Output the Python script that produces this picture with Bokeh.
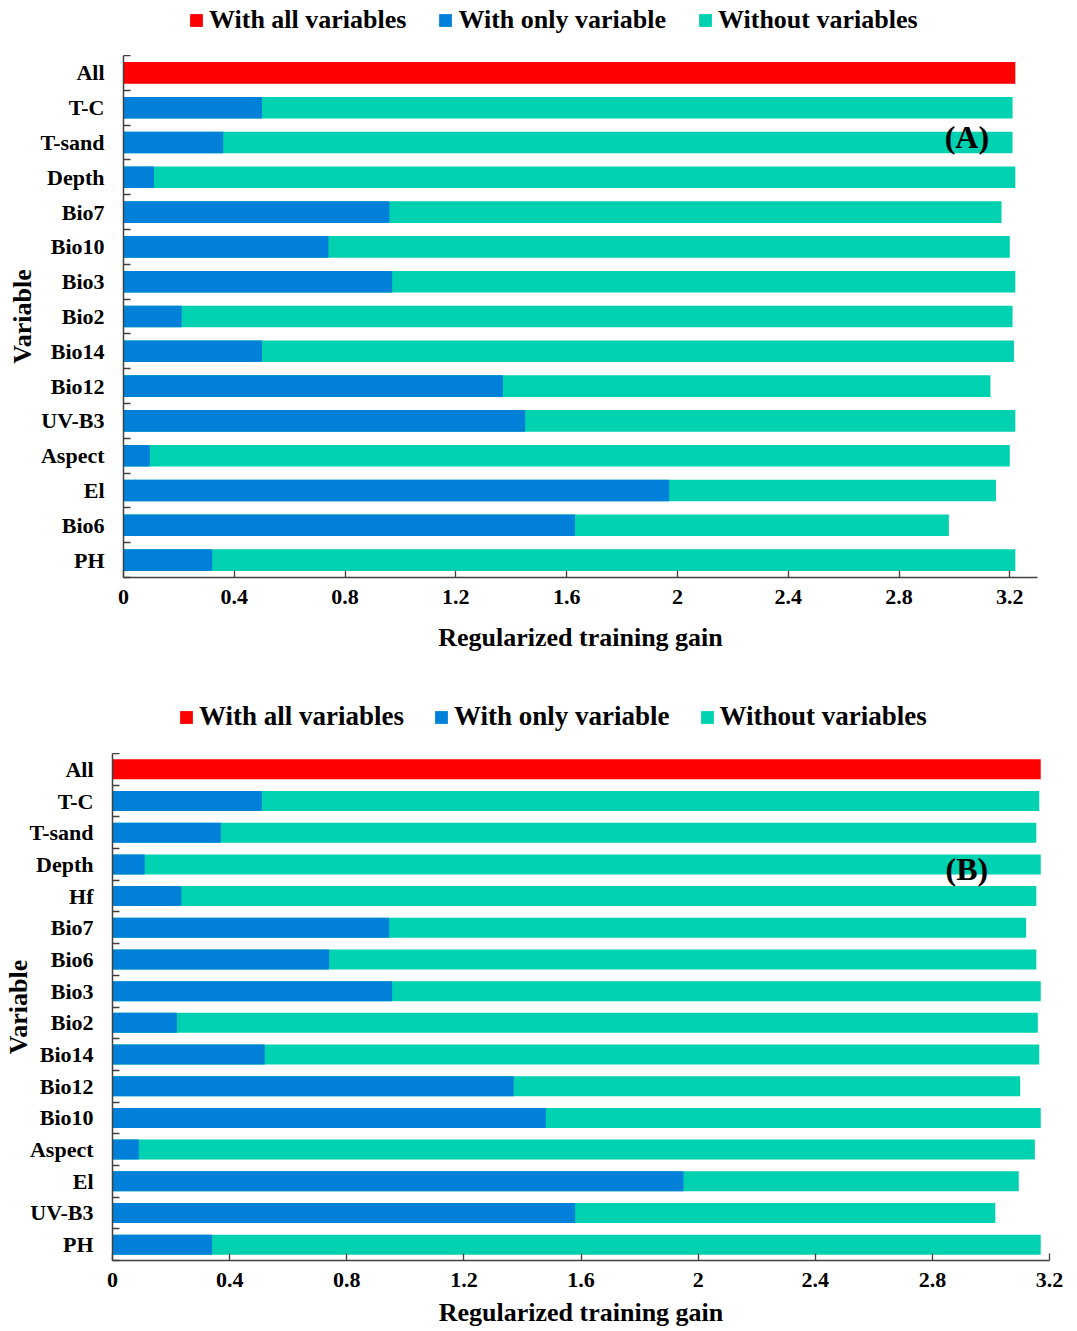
from bokeh.plotting import figure
from bokeh.models import (Range1d, FixedTicker, CustomJSTickFormatter, Legend,
                          LegendItem, ColumnDataSource)
from bokeh.layouts import column
from bokeh.core.properties import value
from bokeh.embed import file_html
from bokeh.resources import INLINE

# ---- data: jackknife of regularized training gain ----
x_tick_values = [0, 0.4, 0.8, 1.2, 1.6, 2, 2.4, 2.8, 3.2]
legend_labels = ["With all variables", "With only variable", "Without variables"]

variables_a = ["T-C", "T-sand", "Depth", "Bio7", "Bio10", "Bio3", "Bio2",
               "Bio14", "Bio12", "UV-B3", "Aspect", "El", "Bio6", "PH"]
only_a = [0.50, 0.36, 0.11, 0.96, 0.74, 0.97, 0.21,
          0.50, 1.37, 1.45, 0.095, 1.97, 1.63, 0.32]
without_a = [3.21, 3.21, 3.22, 3.17, 3.20, 3.22, 3.21,
             3.215, 3.13, 3.22, 3.20, 3.15, 2.98, 3.22]
all_a = 3.22

variables_b = ["T-C", "T-sand", "Depth", "Hf", "Bio7", "Bio6", "Bio3", "Bio2",
               "Bio14", "Bio12", "Bio10", "Aspect", "El", "UV-B3", "PH"]
only_b = [0.51, 0.37, 0.11, 0.235, 0.945, 0.74, 0.955, 0.22,
          0.52, 1.37, 1.48, 0.09, 1.95, 1.58, 0.34]
without_b = [3.165, 3.155, 3.17, 3.155, 3.12, 3.155, 3.17, 3.16,
             3.165, 3.10, 3.17, 3.15, 3.095, 3.015, 3.17]
all_b = 3.17

RED = "#FF0000"
BLUE = "#0080D8"
GREEN = "#00D1B0"
AXIS = "#404040"
FONT = "Liberation Serif"
COLORS = [RED, BLUE, GREEN]


def legend_strip(height, loc, font_size, spacing):
    """A strip above each chart that carries its colour key."""
    p = figure(width=1077, height=height, x_range=Range1d(0, 1), y_range=Range1d(0, 1),
               output_backend="svg", toolbar_location=None,
               x_axis_location=None, y_axis_location=None,
               min_border=0)
    p.outline_line_color = None
    p.grid.visible = False
    items = []
    for label, color in zip(legend_labels, COLORS):
        # swatch renderer: its single bar lies outside the strip's range
        src = ColumnDataSource(dict(y=[-5], right=[0.5]))
        r = p.hbar(y="y", left=0, right="right", height=0.5, source=src,
                   fill_color=color, line_color=None)
        items.append(LegendItem(label=label, renderers=[r]))
    legend = Legend(items=items, orientation="horizontal", location=loc,
                    padding=0, margin=0, spacing=spacing, label_standoff=5,
                    glyph_width=16, glyph_height=16,
                    border_line_color=None, background_fill_alpha=0,
                    label_text_font=FONT, label_text_font_style="bold",
                    label_text_font_size=font_size, label_text_color="black")
    p.add_layout(legend)
    return p


def panel(names, only, without, all_val, xmax, tag, tag_x, tag_row, tag_dy,
          height, borders, bar_h, ylab_standoff, xtick_standoff, xlab_standoff):
    rows = ["All"] + names
    n = len(rows)
    pos = [n - 1 - i for i in range(n)]
    left, right, top, bottom = borders

    p = figure(width=1077, height=height,
               x_range=Range1d(0, xmax), y_range=Range1d(-0.5, n - 0.5),
               output_backend="svg", toolbar_location=None,
               min_border_left=left, min_border_right=right,
               min_border_top=top, min_border_bottom=bottom)
    p.outline_line_color = None
    p.grid.visible = False
    p.background_fill_color = "white"

    red_src = ColumnDataSource(dict(y=[pos[0]], right=[all_val]))
    green_src = ColumnDataSource(dict(y=pos[1:], right=without))
    blue_src = ColumnDataSource(dict(y=pos[1:], right=only))

    p.hbar(y="y", left=0, right="right", height=bar_h, source=red_src,
           fill_color=RED, line_color=None)
    p.hbar(y="y", left=0, right="right", height=bar_h, source=green_src,
           fill_color=GREEN, line_color=None)
    p.hbar(y="y", left=0, right="right", height=bar_h, source=blue_src,
           fill_color=BLUE, line_color=None)

    # panel tag
    p.text(x=[tag_x], y=[pos[tag_row] + tag_dy], text=[tag],
           text_font=value(FONT), text_font_style="bold", text_font_size="32px",
           text_align="center", text_baseline="middle", text_color="black")

    # y axis: names at row centres, ticks on row boundaries
    ya = p.yaxis[0]
    ya.ticker = FixedTicker(ticks=pos, minor_ticks=[k + 0.5 for k in range(-1, n)])
    ya.major_label_overrides = {pos[i]: rows[i] for i in range(n)}
    ya.major_tick_line_color = None
    ya.major_tick_in = 0
    ya.major_tick_out = 0
    ya.minor_tick_in = 7
    ya.minor_tick_out = 0
    ya.minor_tick_line_color = AXIS
    ya.minor_tick_line_width = 1.3
    ya.major_label_standoff = 19
    ya.axis_label = "Variable"
    ya.axis_label_standoff = ylab_standoff

    xa = p.xaxis[0]
    xa.ticker = FixedTicker(ticks=x_tick_values)
    xa.formatter = CustomJSTickFormatter(code="return Number(tick.toFixed(1)).toString();")
    xa.major_tick_in = 7
    xa.major_tick_out = 0
    xa.minor_tick_line_color = None
    xa.major_tick_line_color = AXIS
    xa.major_tick_line_width = 1.3
    xa.major_label_standoff = xtick_standoff
    xa.axis_label = "Regularized training gain"
    xa.axis_label_standoff = xlab_standoff

    for ax in (xa, ya):
        ax.axis_line_color = AXIS
        ax.axis_line_width = 1.5
        ax.major_label_text_font = FONT
        ax.major_label_text_font_style = "bold"
        ax.major_label_text_font_size = "22px"
        ax.major_label_text_color = "black"
        ax.axis_label_text_font = FONT
        ax.axis_label_text_font_style = "bold"
        ax.axis_label_text_font_size = "26px"
        ax.axis_label_text_color = "black"
    return p


leg_a = legend_strip(55, (188, 20), "26px", 31)
pa = panel(variables_a, only_a, without_a, all_a, 3.3, "(A)", 3.045, 2, 0.15,
           610, (123, 40, 0, 88), 0.62, 0, 12, 16)
leg_b = legend_strip(88, (178, 21), "27px", 29)
pb = panel(variables_b, only_b, without_b, all_b, 3.2, "(B)", 2.918, 3, -0.13,
           578, (112, 28, 0, 71), 0.63, -7, 12, 8)

layout = column(column(leg_a), column(pa), column(leg_b), column(pb), spacing=0)
open("out.html", "w").write(file_html(layout, INLINE))
